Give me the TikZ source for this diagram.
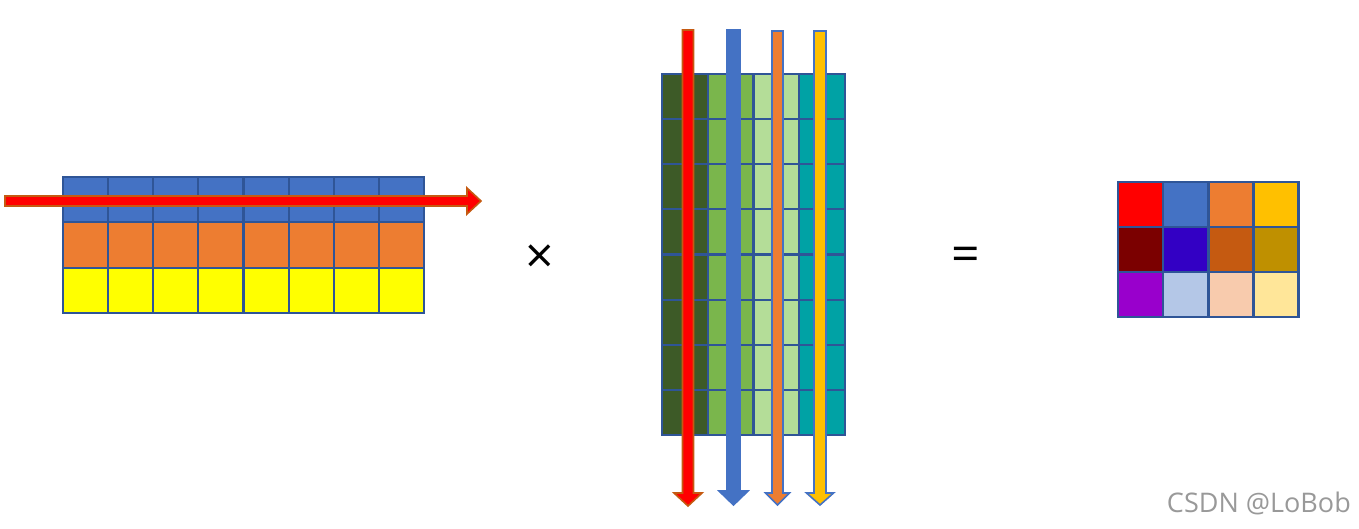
\documentclass[tikz,border=0pt]{standalone}
\usepackage{fontspec}
\setmainfont{Open Sans}
\definecolor{bord}{HTML}{2F5597}
\definecolor{cblue}{HTML}{4472C4}
\definecolor{corange}{HTML}{ED7D31}
\definecolor{cyellow}{HTML}{FFFF00}
\definecolor{cbrown}{HTML}{C55A11}
\definecolor{dgreen}{HTML}{3D5A27}
\definecolor{mgreen}{HTML}{7AB64C}
\definecolor{lgreen}{HTML}{B4DD98}
\definecolor{cteal}{HTML}{00A2A5}
\definecolor{r1a}{HTML}{FF0000}
\definecolor{r1b}{HTML}{4472C4}
\definecolor{r1c}{HTML}{ED7D31}
\definecolor{r1d}{HTML}{FFC000}
\definecolor{r2a}{HTML}{7B0000}
\definecolor{r2b}{HTML}{3300C4}
\definecolor{r2c}{HTML}{C55A11}
\definecolor{r2d}{HTML}{BF9000}
\definecolor{r3a}{HTML}{9900CC}
\definecolor{r3b}{HTML}{B4C7E7}
\definecolor{r3c}{HTML}{F8CBAD}
\definecolor{r3d}{HTML}{FFE699}
\definecolor{wm}{HTML}{999999}
\tikzset{
  cell/.style={draw=bord, line width=2.2pt},
  arr/.style={line width=1.6pt, line join=miter},
  sym/.style={inner sep=0pt, font=\fontsize{50}{56}\selectfont},
}
% vertical arrow: center x, half shaft, top, head start, tip, head half width
\newcommand\myvarrow[6]{(#1-#2,#3) -- (#1+#2,#3) -- (#1+#2,#4) -- (#1+#6,#4) -- (#1,#5) -- (#1-#6,#4) -- (#1-#2,#4) -- cycle}
\begin{document}
\begin{tikzpicture}[x=1pt,y=-1pt]
\useasboundingbox (0,0) rectangle (1359,528);
% left matrix
\foreach \r/\c in {0/cblue,1/corange,2/cyellow}{
  \foreach \i in {0,...,7}{
    \path[cell, fill=\c] ({63+\i*45.125},{177+\r*45.33}) rectangle ++(45.125,45.33);
  }
}
% horizontal red arrow
\path[arr, draw=cbrown, fill=red] (5,196) -- (467,196) -- (467,188) -- (481,201) -- (467,214) -- (467,206) -- (5,206) -- cycle;
% middle matrix
\foreach \j/\c in {0/dgreen,1/mgreen,2/lgreen,3/cteal}{
  \foreach \i in {0,...,7}{
    \path[cell, fill=\c] ({662+\j*45.75},{74+\i*45.125}) rectangle ++(45.75,45.125);
  }
}
% vertical arrows
\path[arr, draw=cbrown, fill=red] \myvarrow{688}{5.5}{30}{493}{506}{14};
\path[arr, draw=cblue, fill=cblue] \myvarrow{733.5}{6.5}{30}{491}{505}{14.5};
\path[arr, draw=cblue, fill=corange] \myvarrow{777.5}{5.5}{31}{493}{505}{12};
\path[arr, draw=cblue, fill=r1d] \myvarrow{820}{6}{31}{493}{505}{13.5};
% result matrix
\foreach \r/\la/\lb/\lc/\ld in {0/r1a/r1b/r1c/r1d,1/r2a/r2b/r2c/r2d,2/r3a/r3b/r3c/r3d}{
  \path[cell, fill=\la] (1118,{182+\r*45}) rectangle ++(45,45);
  \path[cell, fill=\lb] (1163,{182+\r*45}) rectangle ++(45.5,45);
  \path[cell, fill=\lc] (1208.5,{182+\r*45}) rectangle ++(45,45);
  \path[cell, fill=\ld] (1253.5,{182+\r*45}) rectangle ++(45,45);
}
% operators
\node[sym] (times) at (540,259) {×};
\node[sym] (eq) at (966,259) {=};
% watermark
\node[anchor=east, inner sep=0pt, text=wm, font=\fontsize{27}{32}\selectfont] (wmk) at (1351,503) {CSDN @LoBob};
\end{tikzpicture}
\end{document}
